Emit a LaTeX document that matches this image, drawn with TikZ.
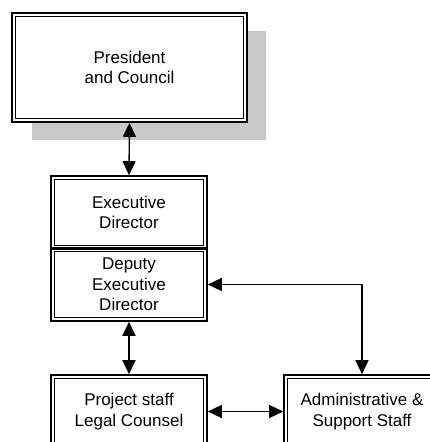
\documentclass[tikz,border=0pt]{standalone}
\usepackage{fontspec}
\setmainfont{Liberation Sans}
\usetikzlibrary{arrows.meta}
\tikzset{
  orgbox/.style={draw, line width=1.6pt, minimum width=156pt, minimum height=73pt,
    inner sep=0pt, align=center, font=\fontsize{17}{20.5}\selectfont},
  innerb/.style={draw, line width=0.8pt, minimum width=148.8pt, minimum height=65.8pt, inner sep=0pt},
  link/.style={line width=1.4pt, {Triangle[length=14pt,width=13pt]}-{Triangle[length=14pt,width=13pt]}}
}
\begin{document}
\begin{tikzpicture}[x=1pt,y=1pt]
\useasboundingbox (0,0) rectangle (429,442);
\fill[black!21] (32,302) rectangle (266,411);
\node[orgbox, fill=white, minimum width=235pt, minimum height=109pt] (pres) at (129.5,374.5) {President\\and Council};
\node[innerb, minimum width=227.8pt, minimum height=101.8pt] (presi) at (pres.center) {};
\node[orgbox] (exec) at (129,229.5) {Executive\\Director};
\node[innerb] (execi) at (exec.center) {};
\node[orgbox] (dep) at (129,157.5) {Deputy\\Executive\\Director};
\node[innerb] (depi) at (dep.center) {};
\node[orgbox] (proj) at (129,30.5) {Project staff\\Legal Counsel};
\node[innerb] (proji) at (proj.center) {};
\node[orgbox] (admin) at (362,30.5) {Administrative \&\\Support Staff};
\node[innerb] (admini) at (admin.center) {};
\coordinate (corner) at (admin.north |- dep.east);
\draw[link] (pres.south) -- (exec.north);
\draw[link] (dep.south) -- (proj.north);
\draw[link] (proj.east) -- (admin.west);
\draw[link] (dep.east) -- (corner) -- (admin.north);
\end{tikzpicture}
\end{document}
